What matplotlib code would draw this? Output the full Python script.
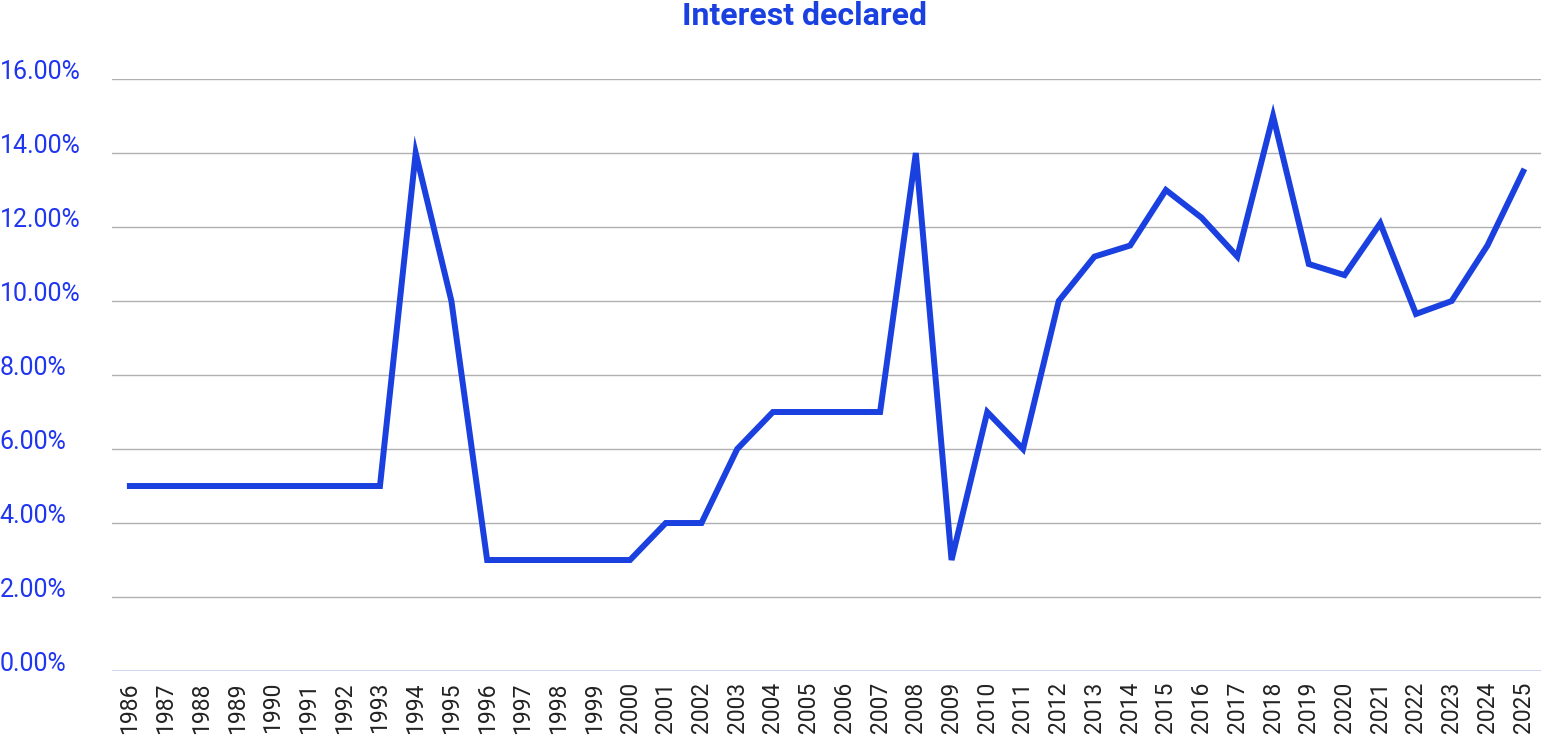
import matplotlib
matplotlib.use("Agg")
import matplotlib.pyplot as plt

years = [str(y) for y in range(1986, 2026)]
rates = [5.0, 5.0, 5.0, 5.0, 5.0, 5.0, 5.0, 5.0,
         14.0, 10.0,
         3.0, 3.0, 3.0, 3.0, 3.0,
         4.0, 4.0, 6.0,
         7.0, 7.0, 7.0, 7.0,
         14.0, 3.0, 7.0, 6.0, 10.0,
         11.2, 11.5, 13.0, 12.25, 11.2, 15.0,
         11.0, 10.7, 12.1, 9.65, 10.0, 11.5, 13.5]
yticks = [0, 2, 4, 6, 8, 10, 12, 14, 16]

blue = "#1a40e0"
label_blue = "#1f35f0"

plt.rcParams['font.family'] = ['Roboto', 'DejaVu Sans']

fig = plt.figure(figsize=(15.41, 7.44), dpi=100)
ax = fig.add_axes([0.0727, 0.0981, 0.9273, 0.7957])

x = list(range(len(years)))
ax.plot(x, rates, color=blue, linewidth=4.3, solid_joinstyle='miter')

ax.set_xlim(-0.5, len(years) - 0.5)
ax.set_ylim(0, 16)
ax.set_yticks(yticks)
ax.set_yticklabels(["%.2f%%" % v for v in yticks], color=label_blue,
                   fontsize=18, ha='left', va='baseline')
# pad is in points: 112 px at 100 dpi
ax.tick_params(axis='y', length=0, pad=81)
ax.set_xticks(x)
ax.set_xticklabels(years, rotation=90, fontsize=16.5, color='#222222')
ax.tick_params(axis='x', length=0, pad=8)

for v in yticks[1:]:
    ax.axhline(v, color='#b0b0b0', linewidth=1, zorder=0)
ax.axhline(0, color='#d4d6f0', linewidth=1.5, zorder=0)

for s in ax.spines.values():
    s.set_visible(False)

fig.text(0.522, 0.998, "Interest declared", ha='center', va='top',
         fontsize=23, fontweight='bold', color=blue)

fig.savefig("out.png", dpi=100)
